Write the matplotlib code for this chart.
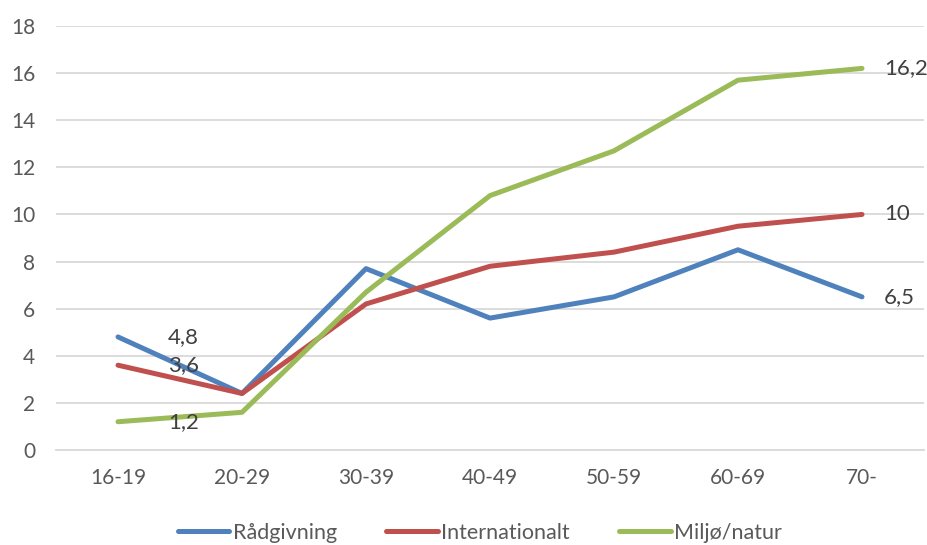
import matplotlib
matplotlib.use("Agg")
import matplotlib.pyplot as plt
from matplotlib.lines import Line2D

categories = ["16-19", "20-29", "30-39", "40-49", "50-59", "60-69", "70-"]
radgivning = [4.8, 2.4, 7.7, 5.6, 6.5, 8.5, 6.5]
internationalt = [3.6, 2.4, 6.2, 7.8, 8.4, 9.5, 10.0]
miljo = [1.2, 1.6, 6.7, 10.8, 12.7, 15.7, 16.2]
series_names = ["Rådgivning", "Internationalt", "Miljø/natur"]
yticks = [0, 2, 4, 6, 8, 10, 12, 14, 16, 18]

colors = ["#4F81BD", "#C0504D", "#9BBB59"]
txt = "#595959"
plt.rcParams["font.family"] = ["Lato", "DejaVu Sans"]

fig = plt.figure(figsize=(9.28, 5.45), dpi=100)
ax = fig.add_axes([56/928, 1-450/545, (924-56)/928, (450-26)/545])

x = list(range(len(categories)))
for vals, c in zip([radgivning, internationalt, miljo], colors):
    ax.plot(x, vals, color=c, lw=3.6, solid_capstyle="round", solid_joinstyle="round", zorder=3)

def fmt(v):
    s = ("%.1f" % v).replace(".", ",")
    return s[:-2] if s.endswith(",0") else s

for vals in [radgivning, internationalt, miljo]:
    ax.annotate(fmt(vals[0]), (0, vals[0]), xytext=(36, 0), textcoords="offset points",
                ha="left", va="center", fontsize=16, color="#404040", zorder=4)
    ax.annotate(fmt(vals[-1]), (6, vals[-1]), xytext=(16, 0), textcoords="offset points",
                ha="left", va="center", fontsize=16, color="#404040", zorder=4)

ax.set_xlim(-0.5, 6.5)
ax.set_ylim(0, 18)
ax.set_yticks(yticks)
ax.set_xticks(x)
ax.set_xticklabels(categories)
ax.grid(axis="y", color="#D9D9D9", lw=1.3)
ax.set_axisbelow(True)
for s in ["top", "right", "left"]:
    ax.spines[s].set_visible(False)
ax.spines["bottom"].set_color("#D9D9D9")
ax.spines["bottom"].set_linewidth(1.3)
ax.tick_params(axis="both", length=0, labelsize=15, labelcolor=txt)
ax.tick_params(axis="y", pad=15)
ax.tick_params(axis="x", pad=13)

handles = [Line2D([], [], color=c, lw=3.6, solid_capstyle="round") for c in colors]
fig.legend(handles, series_names, loc="center", bbox_to_anchor=(480/928, 1-533/545),
           ncol=3, frameon=False, fontsize=15.5, labelcolor=txt, handlelength=2.4,
           handletextpad=0.15, columnspacing=2.3)

fig.savefig("out.png", dpi=100)
